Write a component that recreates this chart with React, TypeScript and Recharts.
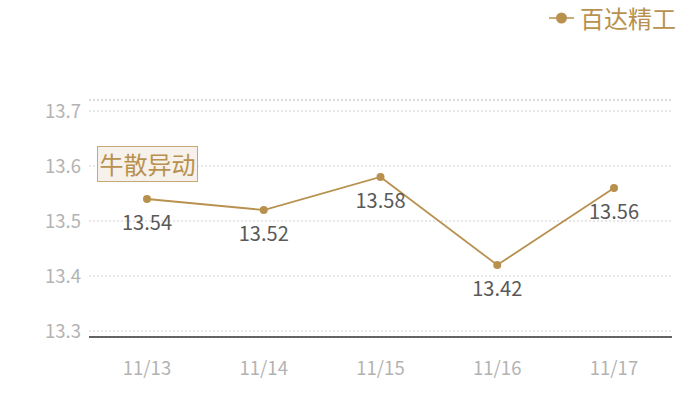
import { LineChart, Line, XAxis, YAxis, CartesianGrid, ReferenceLine, LabelList } from 'recharts';

const DATES = ['11/13', '11/14', '11/15', '11/16', '11/17'];
const PRICES = [13.54, 13.52, 13.58, 13.42, 13.56];
const Y_TICKS = [13.3, 13.4, 13.5, 13.6, 13.7];
const SERIES_NAME = '百达精工';
const TAG_TEXT = '牛散异动';

const GOLD = '#b8914f';
const FONT = '"Noto Sans CJK SC", "Noto Sans", sans-serif';

const chartData = DATES.map((d, i) => ({ date: d, price: PRICES[i] }));

function PriceLabel(props: any) {
  const { x, y, value } = props;
  return (
    <text x={x} y={y + 22} textAnchor="middle" dominantBaseline="central" fontSize={20} fill="#595959" fontFamily={FONT}>
      {value.toFixed(2)}
    </text>
  );
}

export default function App() {
  return (
    <div style={{ position: 'absolute', left: 0, top: 0, width: 700, height: 400, background: '#fff' }}>
      <LineChart width={700} height={400} data={chartData} margin={{ top: 100, right: 28, bottom: 0, left: 0 }}>
        <CartesianGrid vertical={false} stroke="#d0d0d0" strokeDasharray="2 2" />
        <ReferenceLine y={13.72} stroke="#d0d0d0" strokeDasharray="2 2" ifOverflow="visible" />
        <XAxis
          dataKey="date"
          padding={{ left: 58, right: 58 }}
          axisLine={{ stroke: '#333', strokeWidth: 1.5 }}
          tickLine={false}
          tickMargin={19}
          height={63}
          tick={{ fontSize: 18.5, fill: '#b3b3b3', fontFamily: FONT }}
        />
        <YAxis
          domain={[13.2891, 13.72]}
          ticks={Y_TICKS}
          allowDataOverflow
          axisLine={false}
          tickLine={false}
          width={89}
          tickFormatter={(v: number) => v.toFixed(1)}
          tick={{ fontSize: 18.5, fill: '#b3b3b3', fontFamily: FONT }}
        />
        <Line
          type="linear"
          dataKey="price"
          name={SERIES_NAME}
          stroke={GOLD}
          strokeWidth={1.8}
          dot={{ r: 4, fill: GOLD, stroke: GOLD, strokeWidth: 0 }}
          isAnimationActive={false}
        >
          <LabelList dataKey="price" content={<PriceLabel />} />
        </Line>
      </LineChart>
      <div style={{ position: 'absolute', left: 549, top: 0, height: 36, display: 'flex', alignItems: 'center', fontFamily: FONT }}>
        <svg width={25} height={14}>
          <line x1={0} y1={7} x2={25} y2={7} stroke={GOLD} strokeWidth={1.5} />
          <circle cx={12.5} cy={7} r={5.5} fill={GOLD} />
        </svg>
        <span style={{ color: GOLD, fontSize: 24, marginLeft: 6, lineHeight: '36px' }}>{SERIES_NAME}</span>
      </div>
      <div
        style={{
          position: 'absolute',
          left: 97,
          top: 146,
          width: 99,
          height: 34,
          border: '1px solid #c8a872',
          background: '#f6f1ea',
          color: GOLD,
          fontFamily: FONT,
          fontSize: 24,
          lineHeight: '34px',
          textAlign: 'center',
        }}
      >
        {TAG_TEXT}
      </div>
    </div>
  );
}
